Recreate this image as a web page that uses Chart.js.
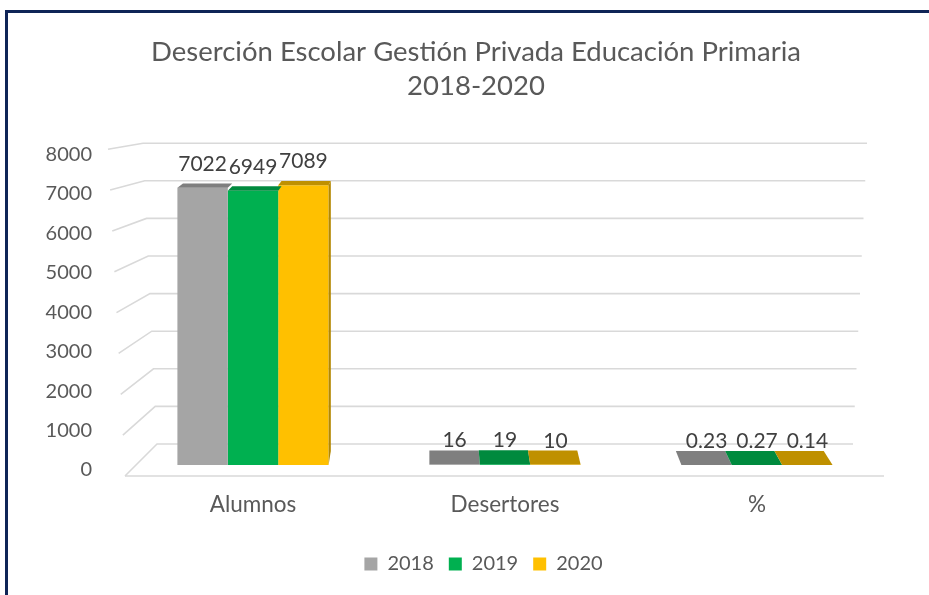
<!DOCTYPE html>
<html lang="es">
<head>
<meta charset="UTF-8">
<title>Deserción Escolar Gestión Privada Educación Primaria</title>
<script src="https://cdn.jsdelivr.net/npm/chart.js@4.4.1/dist/chart.umd.min.js"></script>
<style>
    html, body { margin: 0; padding: 0; background: #fff; overflow: hidden; }
    .chart-wrap { position: relative; width: 929px; height: 595px; overflow: hidden; }
    .frame {
        position: absolute; left: 5px; top: 10px; width: 1000px; height: 700px;
        border-top: 3px solid #0f2557; border-left: 3px solid #0f2557;
        pointer-events: none;
    }
</style>
</head>
<body>
<div class="chart-wrap">
    <canvas id="desercionChart"></canvas>
    <div class="frame"></div>
</div>
<script>
// =========================
// Data
// =========================
const categories = ['Alumnos', 'Desertores', '%'];
const seriesNames = ['2018', '2019', '2020'];
const values2018 = [7022, 16, 0.23];
const values2019 = [6949, 19, 0.27];
const values2020 = [7089, 10, 0.14];
const yMin = 0;
const yMax = 8000;
const yStep = 1000;

// Colors (front face, top face, side face)
const frontColors = ['#a5a5a5', '#00b050', '#ffc000'];
const topColors = ['#7f7f7f', '#008a3e', '#bf9000'];
const sideColors = ['#7c7c7c', '#00843c', '#b38700'];

const textColor = '#595959';
const fontFamily = 'Lato, "Open Sans", sans-serif';

// =========================
// 3D look helpers
// =========================
function depthAt(y, area) {
    // top faces get deeper near the floor (perspective)
    return 3 + 11 * (y - area.top) / (area.bottom - area.top);
}

function shiftAt(x, area) {
    const vx = area.left + 0.4 * (area.right - area.left);
    return (vx - x) * 0.022;
}

// Back wall + floor grid drawn in perspective
const wallGrid = {
    id: 'wallGrid',
    beforeDatasetsDraw(chart) {
        const { ctx, chartArea: a, scales: { y } } = chart;
        const H = a.bottom - a.top;
        ctx.save();
        ctx.strokeStyle = '#d9d9d9';
        ctx.lineWidth = 1.6;
        y.ticks.forEach(t => {
            const f = (a.bottom - y.getPixelForValue(t.value)) / H;
            const fy = a.bottom + 11 - f * (H + 11);
            const by = a.bottom - 21 - f * (H - 15);
            const fx = a.left - 2 - f * 17;
            const bx = a.left + 30 - f * 14;
            const rx = a.right - 30 + f * 14;
            ctx.beginPath();
            ctx.moveTo(fx, fy);
            ctx.lineTo(bx, by);
            ctx.lineTo(rx, by);
            ctx.stroke();
        });
        // front edge of the floor
        ctx.beginPath();
        ctx.moveTo(a.left - 2, a.bottom + 11);
        ctx.lineTo(a.right + 1, a.bottom + 11);
        ctx.stroke();
        ctx.restore();
    }
};

// Top and side faces of the bars, then the value labels
const barFaces = {
    id: 'barFaces',
    afterDatasetsDraw(chart) {
        const { ctx, chartArea: a } = chart;
        ctx.save();
        chart.data.datasets.forEach((ds, di) => {
            const meta = chart.getDatasetMeta(di);
            meta.data.forEach(bar => {
                const { x, y, base, width } = bar.getProps(['x', 'y', 'base', 'width'], true);
                const L = x - width / 2;
                const R = x + width / 2;
                const d = depthAt(y, a);
                const sL = shiftAt(L, a);
                const sR = shiftAt(R, a);

                // right side face on the last bar of a group
                if (di === chart.data.datasets.length - 1 && sR > 0) {
                    const dBase = depthAt(base, a);
                    ctx.fillStyle = sideColors[di];
                    ctx.beginPath();
                    ctx.moveTo(R, y);
                    ctx.lineTo(R + sR, y - d);
                    ctx.lineTo(R + sR, base - dBase);
                    ctx.lineTo(R, base);
                    ctx.closePath();
                    ctx.fill();
                }

                // top face
                ctx.fillStyle = topColors[di];
                ctx.beginPath();
                ctx.moveTo(L, y);
                ctx.lineTo(R, y);
                ctx.lineTo(R + sR, y - d);
                ctx.lineTo(L + sL, y - d);
                ctx.closePath();
                ctx.fill();
            });
        });

        // value labels
        ctx.fillStyle = '#404040';
        ctx.font = '21px ' + fontFamily;
        ctx.textAlign = 'center';
        ctx.textBaseline = 'alphabetic';
        chart.data.datasets.forEach((ds, di) => {
            chart.getDatasetMeta(di).data.forEach((bar, i) => {
                const { x, y } = bar.getProps(['x', 'y'], true);
                ctx.fillText(String(ds.data[i]), x, y - 17);
            });
        });
        ctx.restore();
    }
};

// Title and legend sit centred over the framed area, right of the canvas middle
const blockShift = {
    id: 'blockShift',
    afterLayout(chart) {
        if (chart.titleBlock) chart.titleBlock.left += 39;
        if (chart.legend) {
            chart.legend.left += 27;
            chart.legend.right += 27;
        }
    }
};

// =========================
// Chart
// =========================
const seriesValues = [values2018, values2019, values2020];

const chart = new Chart(document.getElementById('desercionChart'), {
    type: 'bar',
    data: {
        labels: categories,
        datasets: seriesNames.map((name, i) => ({
            label: name,
            data: seriesValues[i],
            backgroundColor: frontColors[i],
            borderWidth: 0,
            categoryPercentage: 0.6,
            barPercentage: 1.0
        }))
    },
    options: {
        responsive: true,
        maintainAspectRatio: false,
        animation: false,
        layout: { padding: { left: 30, right: 46, top: 0, bottom: 11 } },
        plugins: {
            tooltip: { enabled: false },
            title: {
                display: true,
                text: ['Deserción Escolar Gestión Privada Educación Primaria', '2018-2020'],
                color: textColor,
                font: { family: fontFamily, size: 27.5, weight: 'normal', lineHeight: 1.24 },
                padding: { top: 35, bottom: 46 }
            },
            legend: {
                position: 'bottom',
                labels: {
                    color: textColor,
                    font: { family: fontFamily, size: 20 },
                    boxWidth: 13,
                    boxHeight: 13,
                    padding: 15
                }
            }
        },
        scales: {
            x: {
                grid: { display: false, drawTicks: false },
                border: { display: false },
                ticks: {
                    color: textColor,
                    font: { family: fontFamily, size: 22.5 },
                    padding: 26
                },
                afterFit(scale) { scale.height = 74; }
            },
            y: {
                min: yMin,
                max: yMax,
                grid: { display: false, drawTicks: false },
                border: { display: false },
                ticks: {
                    stepSize: yStep,
                    color: textColor,
                    font: { family: fontFamily, size: 20 },
                    padding: 35,
                    labelOffset: 5,
                    callback: v => String(v)
                },
                afterFit(scale) { scale.width = 97; }
            }
        }
    },
    plugins: [wallGrid, barFaces, blockShift]
});
</script>
</body>
</html>
